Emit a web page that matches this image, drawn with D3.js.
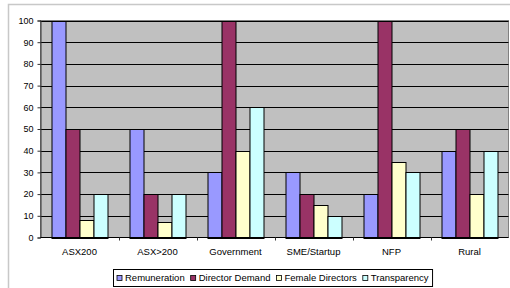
<!DOCTYPE html>
<html>
<head>
<meta charset="utf-8">
<script src="https://cdn.jsdelivr.net/npm/d3@7"></script>
<style>
  body { margin: 0; background: #fff; }
  svg { display: block; font-family: "Liberation Sans", Arial, sans-serif; }
</style>
</head>
<body>
<div id="chart"></div>
<script>
// chart data
const categories = ['ASX200', 'ASX>200', 'Government', 'SME/Startup', 'NFP', 'Rural'];
const seriesNames = ['Remuneration', 'Director Demand', 'Female Directors', 'Transparency'];
const remuneration = [100, 50, 30, 30, 20, 40];
const directorDemand = [50, 20, 100, 20, 100, 50];
const femaleDirectors = [8, 7, 40, 15, 35, 20];
const transparency = [20, 20, 60, 10, 30, 40];
const yTicks = [0, 10, 20, 30, 40, 50, 60, 70, 80, 90, 100];

const seriesValues = [remuneration, directorDemand, femaleDirectors, transparency];
const colors = ['#9999ff', '#993366', '#ffffcc', '#ccffff'];

const width = 510, height = 288;
const plot = { left: 40.5, right: 508.5, top: 20.5, bottom: 237.5 };

const svg = d3.select('#chart').append('svg')
  .attr('width', width)
  .attr('height', height);

// outer chart frame (only top and left edges are visible)
svg.append('path')
  .attr('d', `M8.5,${height} V4.5 H${width}`)
  .attr('fill', 'none')
  .attr('stroke', '#c8c8c8')
  .attr('stroke-width', 1.5);

const x0 = d3.scaleBand()
  .domain(categories)
  .range([plot.left, plot.right]);

const bw = x0.bandwidth();
const x1 = d3.scaleBand()
  .domain(seriesNames)
  .range([bw * 0.141, bw * 0.859]);

const y = d3.scaleLinear()
  .domain([0, 100])
  .range([plot.bottom, plot.top]);

// plot background
svg.append('rect')
  .attr('x', plot.left)
  .attr('y', plot.top)
  .attr('width', plot.right - plot.left)
  .attr('height', plot.bottom - plot.top)
  .attr('fill', '#c0c0c0')
  .attr('stroke', '#808080');

// gridlines
svg.append('g')
  .selectAll('line')
  .data(yTicks.filter(d => d > 0))
  .join('line')
  .attr('x1', plot.left)
  .attr('x2', plot.right)
  .attr('y1', d => Math.round(y(d)) + 0.5)
  .attr('y2', d => Math.round(y(d)) + 0.5)
  .attr('stroke', '#000')
  .attr('stroke-width', 1);

// bars
const rows = categories.map((c, i) => ({
  category: c,
  values: seriesNames.map((s, j) => ({ series: s, value: seriesValues[j][i], color: colors[j] }))
}));

svg.append('g')
  .selectAll('g')
  .data(rows)
  .join('g')
  .attr('transform', d => `translate(${x0(d.category)},0)`)
  .selectAll('rect')
  .data(d => d.values)
  .join('rect')
  .attr('x', d => Math.round(x1(d.series)) + 0.5)
  .attr('y', d => Math.round(y(d.value)) + 0.5)
  .attr('width', Math.round(x1.bandwidth()))
  .attr('height', d => Math.round(y(0)) - Math.round(y(d.value)))
  .attr('fill', d => d.color)
  .attr('stroke', '#000')
  .attr('stroke-width', 1);

// y axis
const yAxis = d3.axisLeft(y)
  .tickValues(yTicks)
  .tickSize(3)
  .tickPadding(4);

const yg = svg.append('g')
  .attr('transform', `translate(${plot.left},0)`)
  .call(yAxis);
yg.select('.domain').attr('stroke', '#333');
yg.selectAll('.tick line').attr('stroke', '#333');
yg.selectAll('text')
  .attr('fill', '#000')
  .style('font-size', '9px')
  .style('font-family', '"Liberation Sans", Arial, sans-serif');

// x axis: ticks sit on category boundaries, labels centred
const xg = svg.append('g')
  .attr('transform', `translate(0,${plot.bottom})`);
xg.append('line')
  .attr('x1', plot.left)
  .attr('x2', plot.right)
  .attr('stroke', '#000');
xg.selectAll('.sep')
  .data(categories.slice(1))
  .join('line')
  .attr('class', 'sep')
  .attr('x1', d => Math.round(x0(d)) + 0.5)
  .attr('x2', d => Math.round(x0(d)) + 0.5)
  .attr('y1', 0)
  .attr('y2', 3)
  .attr('stroke', '#333');
xg.selectAll('.lbl')
  .data(categories)
  .join('text')
  .attr('class', 'lbl')
  .attr('x', d => x0(d) + bw / 2)
  .attr('y', 17.5)
  .attr('text-anchor', 'middle')
  .style('font-size', '9.5px')
  .text(d => d);

// legend
const legend = svg.append('g');
const items = legend.selectAll('g')
  .data(seriesNames)
  .join('g');
items.append('rect')
  .attr('width', 5)
  .attr('height', 5)
  .attr('fill', (d, i) => colors[i])
  .attr('stroke', '#000')
  .attr('stroke-width', 0.8);
items.append('text')
  .attr('x', 8)
  .attr('y', 5)
  .style('font-size', '9.5px')
  .text(d => d);

let cx = 117;
items.each(function () {
  const g = d3.select(this);
  g.attr('transform', `translate(${cx},275.5)`);
  cx += 8 + g.select('text').node().getComputedTextLength() + 6;
});

legend.insert('rect', ':first-child')
  .attr('x', 113.5)
  .attr('y', 269.5)
  .attr('width', cx - 113.5 - 2)
  .attr('height', 17)
  .attr('fill', '#fff')
  .attr('stroke', '#000');
</script>
</body>
</html>
